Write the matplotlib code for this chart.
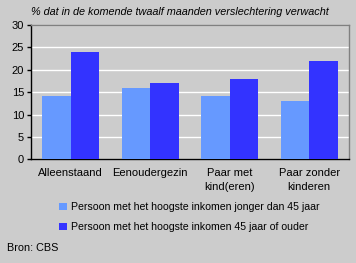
import matplotlib
matplotlib.use("Agg")
import matplotlib.pyplot as plt
import numpy as np

categories = ["Alleenstaand", "Eenoudergezin", "Paar met\nkind(eren)", "Paar zonder\nkinderen"]
series_names = ["Persoon met het hoogste inkomen jonger dan 45 jaar",
                "Persoon met het hoogste inkomen 45 jaar of ouder"]
jonger = [14.1, 16.0, 14.2, 13.0]
ouder = [24.0, 17.1, 18.0, 22.0]
yticks = [0, 5, 10, 15, 20, 25, 30]

plt.rcParams['font.family'] = ['Liberation Sans', 'DejaVu Sans']
bg = '#CCCCCC'
fig = plt.figure(figsize=(3.56, 2.63), dpi=100, facecolor=bg)
ax = fig.add_axes([31/356, 1-159.3/263, 318/356, (159.3-25)/263])
ax.set_facecolor(bg)

x = np.arange(len(categories))
w = 0.36
b1 = ax.bar(x - w/2, jonger, w, color='#6699FF', zorder=3, label=series_names[0])
b2 = ax.bar(x + w/2, ouder, w, color='#3333FF', zorder=3, label=series_names[1])

ax.set_xlim(-0.5, len(categories) - 0.5)
ax.set_ylim(0, 30)
ax.set_yticks(yticks)
ax.set_yticklabels([str(v) for v in yticks], fontsize=8)
ax.yaxis.grid(True, color='white', linewidth=1, zorder=0)
ax.set_axisbelow(True)
ax.set_xticks(x)
ax.set_xticklabels(categories, fontsize=8, linespacing=1.55)
ax.tick_params(axis='x', length=0, pad=6)
ax.tick_params(axis='y', length=3, width=1, pad=2, color='black')
for s in ['top', 'right']:
    ax.spines[s].set_color('#808080')
    ax.spines[s].set_linewidth(1)
for s in ['left', 'bottom']:
    ax.spines[s].set_color('black')
    ax.spines[s].set_linewidth(1)

fig.text(31/356, 1-12/263, "% dat in de komende twaalf maanden verslechtering verwacht",
         fontsize=7.8, style='italic', va='center', ha='left')

fig.legend(handles=[b1, b2], labels=series_names, loc='upper left',
           bbox_to_anchor=(55/356, 1-198/263), frameon=False, fontsize=7.6,
           handlelength=0.75, handleheight=0.75, handletextpad=0.4,
           labelspacing=0.95, borderaxespad=0)

fig.text(7/356, 1-248/263, "Bron: CBS", fontsize=7.8, va='center', ha='left')

fig.savefig("out.png", dpi=100, facecolor=bg)
